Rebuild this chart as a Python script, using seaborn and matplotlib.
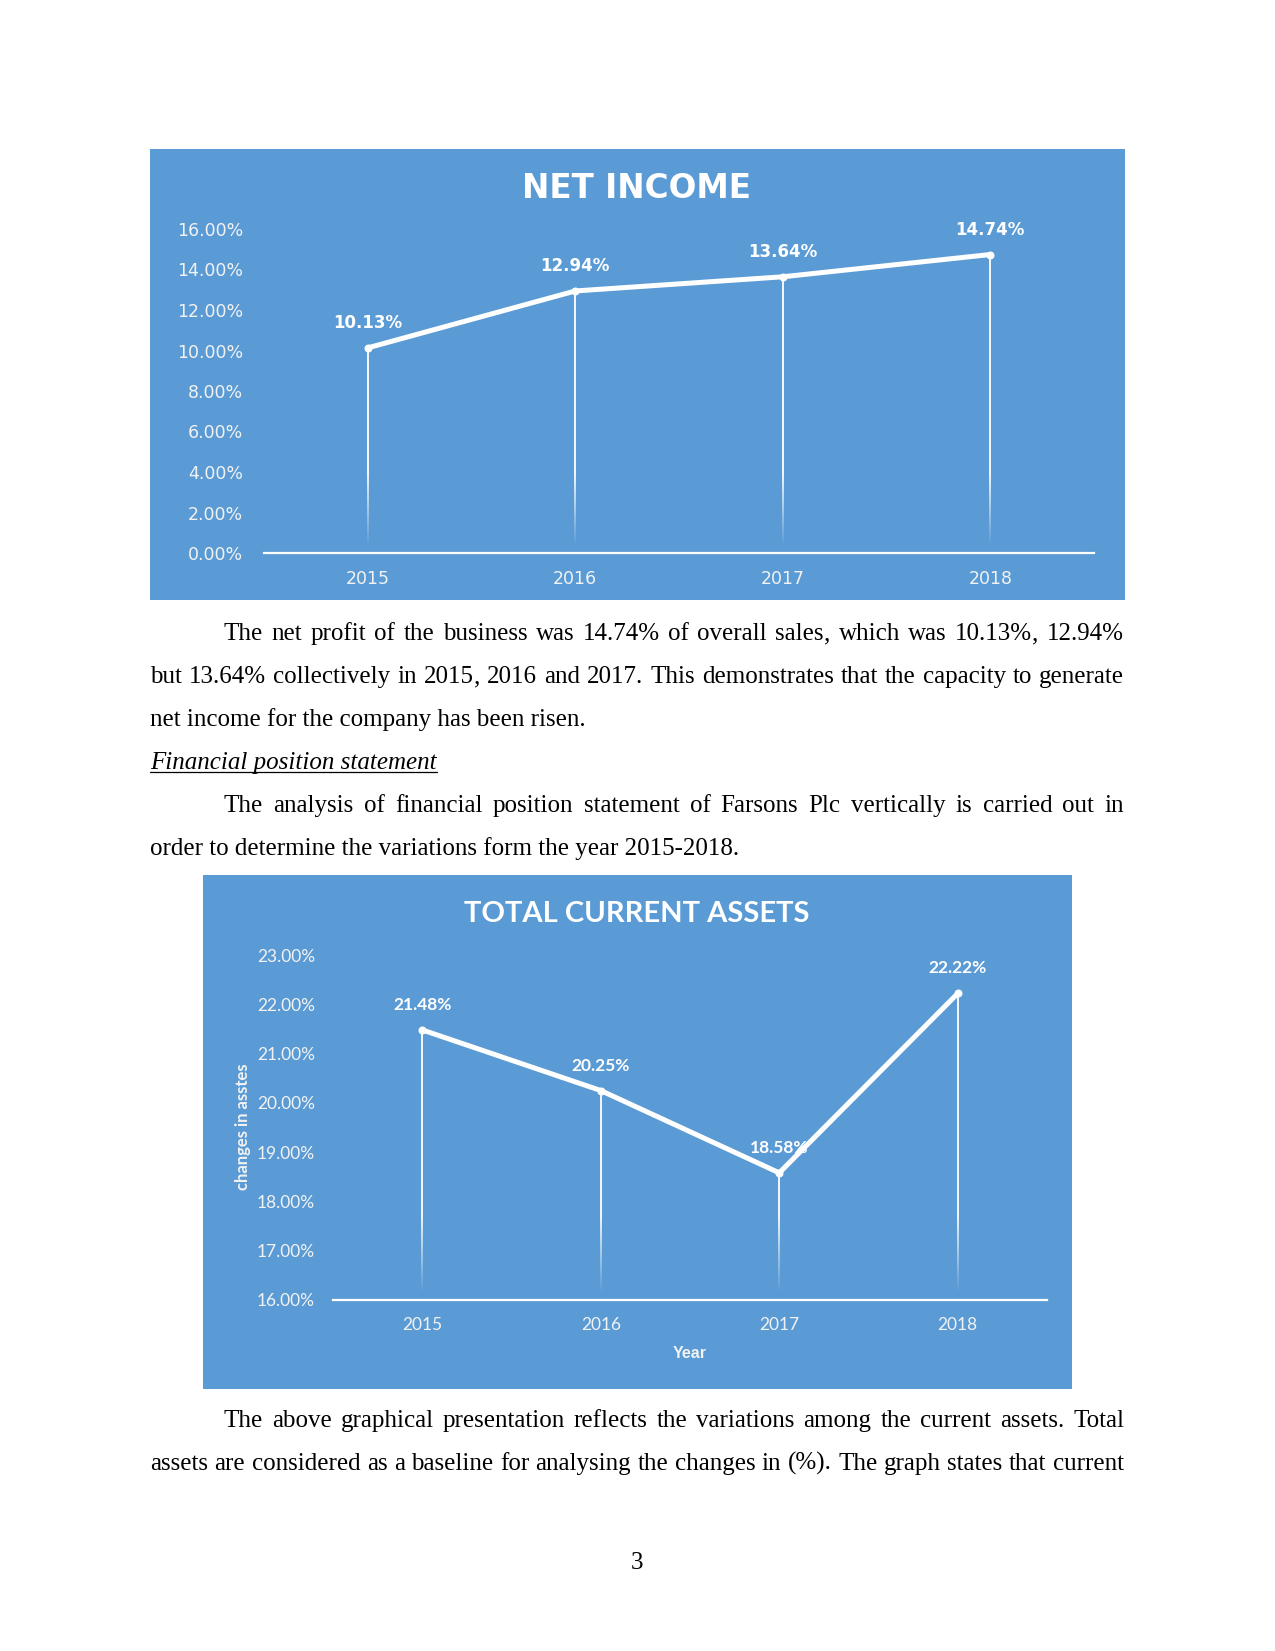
import matplotlib
matplotlib.use("Agg")
from matplotlib import pyplot as plt
from matplotlib.patches import Rectangle
from matplotlib.lines import Line2D
import seaborn as sns
import pandas as pd

W, H = 1275, 1651
BLUE = '#5B9BD5'

years = ['2015', '2016', '2017', '2018']
net_income = [0.1013, 0.1294, 0.1364, 0.1474]
current_assets = [0.2148, 0.2025, 0.1858, 0.2222]
net_ticks = [0.00, 0.02, 0.04, 0.06, 0.08, 0.10, 0.12, 0.14, 0.16]
asset_ticks = [0.16, 0.17, 0.18, 0.19, 0.20, 0.21, 0.22, 0.23]

sns.set_theme(style='white')
plt.rcParams['font.family'] = ['DejaVu Sans']

fig = plt.figure(figsize=(W / 100, H / 100), dpi=100)
fig.patch.set_facecolor('white')


def fx(px):
    return px / W


def fy(py):
    return 1 - py / H


def box(left, top, right, bottom):
    fig.add_artist(Rectangle((fx(left), fy(bottom)), (right - left) / W, (bottom - top) / H,
                             transform=fig.transFigure, facecolor=BLUE, edgecolor='none', zorder=0))


def axes_px(left, top, right, bottom):
    ax = fig.add_axes([fx(left), fy(bottom), (right - left) / W, (bottom - top) / H])
    ax.set_facecolor('none')
    return ax


def style_chart(ax, values, ticks, lo, hi, family, tick_size, ypad, xpad, label_size):
    sns.lineplot(x=years, y=values, ax=ax, color='white', linewidth=3.6, marker='o',
                 markersize=5, markeredgecolor='white', solid_capstyle='round',
                 solid_joinstyle='round', zorder=5)
    # drop lines that fade out towards the baseline
    span = hi - lo
    for yr, v in zip(years, values):
        fade_top = lo + span * 0.25
        ax.vlines(yr, fade_top, v, color='white', linewidth=1.3, zorder=3)
        n = 20
        for k in range(n):
            y0 = lo + span * 0.03 + (fade_top - lo - span * 0.03) * k / n
            y1 = lo + span * 0.03 + (fade_top - lo - span * 0.03) * (k + 1) / n
            ax.vlines(yr, y0, y1, color='white', linewidth=1.3, alpha=(k + 1) / n, zorder=3)
        ax.annotate(f'{v * 100:.2f}%', (yr, v), xytext=(0, 18), textcoords='offset points',
                    ha='center', va='center', color='white', fontsize=label_size,
                    fontweight='bold', family=family)
    ax.set_xlim(-0.5, len(years) - 0.5)
    ax.set_ylim(lo, hi)
    ax.set_yticks(ticks)
    ax.set_yticklabels([f'{t * 100:.2f}%' for t in ticks])
    for s in ['top', 'right', 'left']:
        ax.spines[s].set_visible(False)
    ax.spines['bottom'].set_color('white')
    ax.spines['bottom'].set_linewidth(1.6)
    ax.spines['bottom'].set_zorder(6)
    ax.tick_params(axis='y', length=0, pad=ypad, labelcolor='#F2F2F2', labelsize=tick_size)
    ax.tick_params(axis='x', length=0, pad=xpad, labelcolor='#F2F2F2', labelsize=tick_size)
    for lab in ax.get_xticklabels() + ax.get_yticklabels():
        lab.set_family(family)
    ax.set_xlabel('')
    ax.set_ylabel('')
    ax.grid(False)


# ---- chart 1: net income
box(150, 149, 1125, 600)
ax1 = axes_px(264, 229, 1094, 553)
style_chart(ax1, net_income, net_ticks, 0.0, 0.16, 'DejaVu Sans', 12.5, 15, 12, 12)
fig.text(fx(637), fy(188), 'NET INCOME', ha='center', va='center', color='white',
         fontsize=23.5, fontweight='bold', family='DejaVu Sans')

# ---- chart 2: total current assets
box(203, 875, 1072, 1389)
ax2 = axes_px(333, 955, 1047, 1300)
style_chart(ax2, current_assets, asset_ticks, 0.16, 0.23, 'Lato', 12.5, 13, 12, 12.5)
fig.text(fx(637), fy(914), 'TOTAL CURRENT ASSETS', ha='center', va='center', color='white',
         fontsize=21, fontweight='bold', family='Lato')
fig.text(fx(243), fy(1127), 'changes in asstes', ha='center', va='center', color='#F2F2F2',
         fontsize=12, fontweight='bold', family='Lato', rotation=90)
fig.text(fx(690), fy(1353), 'Year', ha='center', va='center', color='#F2F2F2',
         fontsize=11.5, fontweight='bold', family='Liberation Sans')

# ---- body text
renderer = fig.canvas.get_renderer()
SERIF = 'Liberation Serif'
FS = 18
LEFT, RIGHT, INDENT = 150, 1124, 224
BASE = 8  # px from line centre down to baseline


def word_parts(w):
    # a trailing comma is drawn on its own, it renders oddly when glued to a word
    if w.endswith(',') and len(w) > 1:
        return [w[:-1], ',']
    return [w]


def put_line(text, y, x0, justify=True, **kw):
    yb = fy(y + BASE)
    if not justify:
        return fig.text(fx(x0), yb, text, ha='left', va='baseline', fontsize=FS,
                        family=SERIF, color='black', **kw)
    words = text.split()
    groups = []
    for w in words:
        arts = [fig.text(0, yb, p, ha='left', va='baseline', fontsize=FS, family=SERIF,
                         color='black', **kw) for p in word_parts(w)]
        groups.append([(a, a.get_window_extent(renderer).width) for a in arts])
    total = sum(wd for g in groups for _, wd in g)
    gap = (RIGHT - x0 - total) / (len(words) - 1)
    x = x0
    for g in groups:
        for a, wd in g:
            a.set_x(fx(x))
            x += wd
        x += gap


put_line('The net profit of the business was 14.74% of overall sales, which was 10.13%, 12.94%', 632, INDENT)
put_line('but 13.64% collectively in 2015, 2016 and 2017. This demonstrates that the capacity to generate', 675, LEFT)
put_line('net income for the company has been risen.', 718, LEFT, justify=False)
head = put_line('Financial position statement', 761, LEFT, justify=False, style='italic')
hw = head.get_window_extent(renderer).width
fig.add_artist(Line2D([fx(LEFT), fx(LEFT + hw)], [fy(772), fy(772)], color='black',
                      linewidth=0.9, transform=fig.transFigure))
put_line('The analysis of financial position statement of Farsons Plc vertically is carried out in', 804, INDENT)
put_line('order to determine the variations form the year 2015-2018.', 847, LEFT, justify=False)
put_line('The above graphical presentation reflects the variations among the current assets. Total', 1419, INDENT)
put_line('assets are considered as a baseline for analysing the changes in (%). The graph states that current', 1462, LEFT)
fig.text(fx(637), fy(1561 + BASE), '3', ha='center', va='baseline', fontsize=FS, family=SERIF,
         color='black')

plt.savefig('out.png', dpi=100)
plt.close()
